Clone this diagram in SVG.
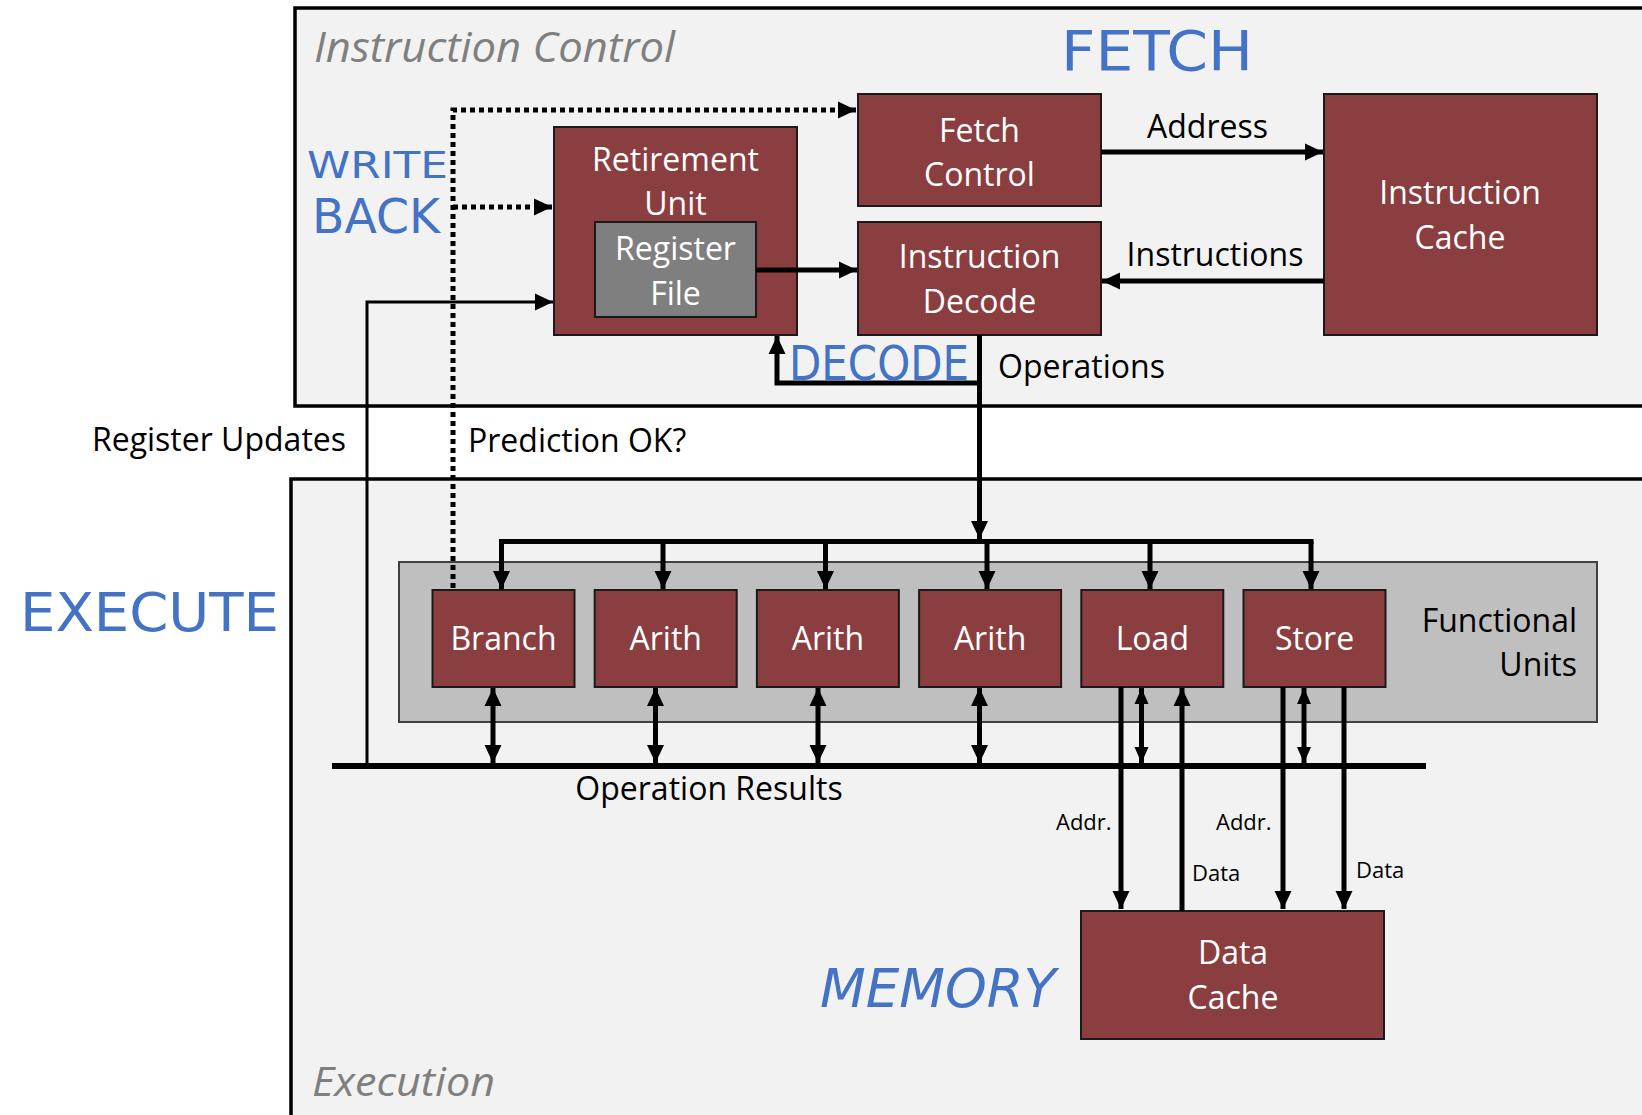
<svg xmlns="http://www.w3.org/2000/svg" width="1642" height="1115" viewBox="0 0 1642 1115">
<defs>
<marker id="ah" markerUnits="userSpaceOnUse" markerWidth="20" markerHeight="20" refX="18" refY="9" orient="auto-start-reverse"><path d="M0,0.5 L18,9 L0,17.5 z" fill="#000"/></marker>
<marker id="ahs" markerUnits="userSpaceOnUse" markerWidth="18" markerHeight="16" refX="16" refY="7.5" orient="auto-start-reverse"><path d="M0,0.5 L16,7.5 L0,14.5 z" fill="#000"/></marker>
<style>
.panel{fill:#f2f2f2;stroke:#000;stroke-width:3.5}
.red{fill:#8b3e3f;stroke:#1a1a1a;stroke-width:2}
.gray{fill:#7f7f7f;stroke:#1a1a1a;stroke-width:2}
.fu{fill:#bfbfbf;stroke:#404040;stroke-width:2}
.wt{font-family:"Open Sans","Noto Sans",sans-serif;font-size:32px;fill:#fff;text-anchor:middle}
.bt{font-family:"Open Sans","Noto Sans",sans-serif;font-size:32px;fill:#000}
.sm{font-family:"Open Sans","Noto Sans",sans-serif;font-size:22px;fill:#000}
.ttl{font-family:"Open Sans","Noto Sans",sans-serif;font-style:italic;fill:#7f7f7f}
.hw{font-family:"DejaVu Sans",sans-serif;fill:#4472c4}
.th{fill:none;stroke:#000;stroke-width:5}
.tn{fill:none;stroke:#000;stroke-width:3}
.dot{fill:none;stroke:#000;stroke-width:5;stroke-dasharray:5 4}
</style>
</defs>
<rect width="1642" height="1115" fill="#fff"/>
<g id="panel-instruction-control">
<rect class="panel" x="295" y="8" width="1360" height="398"/>
<text class="ttl" x="314" y="62" font-size="42" textLength="361" lengthAdjust="spacingAndGlyphs">Instruction Control</text>
</g>
<g id="panel-execution">
<rect class="panel" x="291" y="479" width="1360" height="650"/>
<text class="ttl" x="312" y="1096" font-size="40" textLength="183" lengthAdjust="spacingAndGlyphs">Execution</text>
</g>
<g id="functional-units">
<rect class="fu" x="399" y="562" width="1198" height="160"/>
<text class="bt" x="1577" y="632" text-anchor="end">Functional</text>
<text class="bt" x="1577" y="676" text-anchor="end">Units</text>
</g>
<g id="fetch-control"><rect class="red" x="858" y="94" width="243" height="112"/><text class="wt" x="979.5" y="141.5">Fetch</text><text class="wt" x="979.5" y="186">Control</text></g>
<g id="instruction-decode"><rect class="red" x="858" y="222" width="243" height="113"/><text class="wt" x="979.5" y="268">Instruction</text><text class="wt" x="979.5" y="313">Decode</text></g>
<g id="instruction-cache"><rect class="red" x="1324" y="94" width="273" height="241"/><text class="wt" x="1460" y="204">Instruction</text><text class="wt" x="1460" y="249">Cache</text></g>
<g id="retirement-unit"><rect class="red" x="554" y="127" width="243" height="208"/><text class="wt" x="675.5" y="171">Retirement</text><text class="wt" x="675.5" y="215">Unit</text></g>
<g id="register-file"><rect class="gray" x="595" y="222" width="161" height="95"/><text class="wt" x="675.5" y="260">Register</text><text class="wt" x="675.5" y="305">File</text></g>
<g id="unit-branch"><rect class="red" x="432.5" y="590" width="142" height="97"/><text class="wt" x="503.5" y="650">Branch</text></g>
<g id="unit-arith1"><rect class="red" x="594.7" y="590" width="142" height="97"/><text class="wt" x="665.7" y="650">Arith</text></g>
<g id="unit-arith2"><rect class="red" x="756.9" y="590" width="142" height="97"/><text class="wt" x="827.9" y="650">Arith</text></g>
<g id="unit-arith3"><rect class="red" x="919.1" y="590" width="142" height="97"/><text class="wt" x="990.1" y="650">Arith</text></g>
<g id="unit-load"><rect class="red" x="1081.3" y="590" width="142" height="97"/><text class="wt" x="1152.3" y="650">Load</text></g>
<g id="unit-store"><rect class="red" x="1243.5" y="590" width="142" height="97"/><text class="wt" x="1314.5" y="650">Store</text></g>
<g id="data-cache"><rect class="red" x="1081" y="911" width="303" height="128"/><text class="wt" x="1233" y="964">Data</text><text class="wt" x="1233" y="1009">Cache</text></g>
<g id="connectors">
<path class="dot" d="M453,588 V110 H838"/>
<path d="M838,110 H856" stroke="#000" stroke-width="5" marker-end="url(#ah)"/>
<path class="dot" d="M453,207 H536"/>
<path d="M536,207 H552" stroke="#000" stroke-width="5" marker-end="url(#ah)"/>
<path class="tn" d="M367,766 V302 H553" marker-end="url(#ah)"/>
<path class="th" d="M756,270 H857" marker-end="url(#ah)"/>
<path class="th" d="M1101,152 H1323" marker-end="url(#ah)"/>
<path class="th" d="M1324,281 H1102" marker-end="url(#ah)"/>
<path class="th" d="M979.5,335 V539" marker-end="url(#ah)"/>
<path class="th" d="M979.5,383 H777 V336" marker-end="url(#ah)"/>
<path class="th" d="M499,541.5 H1313.5"/>
<path class="th" d="M501.5,541.5 V589" marker-end="url(#ah)"/>
<path class="th" d="M663,541.5 V589" marker-end="url(#ah)"/>
<path class="th" d="M825.5,541.5 V589" marker-end="url(#ah)"/>
<path class="th" d="M987,541.5 V589" marker-end="url(#ah)"/>
<path class="th" d="M1150,541.5 V589" marker-end="url(#ah)"/>
<path class="th" d="M1311,541.5 V589" marker-end="url(#ah)"/>
<path d="M332,766 H1426" stroke="#000" stroke-width="6"/>
<path class="th" d="M493,688 V763" marker-start="url(#ah)" marker-end="url(#ah)"/>
<path class="th" d="M655.5,688 V763" marker-start="url(#ah)" marker-end="url(#ah)"/>
<path class="th" d="M818,688 V763" marker-start="url(#ah)" marker-end="url(#ah)"/>
<path class="th" d="M979.5,688 V763" marker-start="url(#ah)" marker-end="url(#ah)"/>
<path class="th" d="M1141.5,688 V763" marker-start="url(#ahs)" marker-end="url(#ahs)"/>
<path class="th" d="M1304,688 V763" marker-start="url(#ahs)" marker-end="url(#ahs)"/>
<path class="th" d="M1121,687 V909" marker-end="url(#ah)"/>
<path class="th" d="M1182,911 V688" marker-end="url(#ah)"/>
<path class="th" d="M1283,687 V909" marker-end="url(#ah)"/>
<path class="th" d="M1344,687 V909" marker-end="url(#ah)"/>
</g>
<g id="labels">
<text class="bt" x="1207.5" y="138" text-anchor="middle">Address</text>
<text class="bt" x="1215" y="266" text-anchor="middle">Instructions</text>
<text class="bt" x="998" y="378">Operations</text>
<text class="bt" x="346" y="451" text-anchor="end">Register Updates</text>
<text class="bt" x="468" y="452">Prediction OK?</text>
<text class="bt" x="709" y="800" text-anchor="middle">Operation Results</text>
<text class="sm" x="1056" y="830">Addr.</text>
<text class="sm" x="1216" y="830">Addr.</text>
<text class="sm" x="1192" y="881">Data</text>
<text class="sm" x="1356" y="878">Data</text>
</g>
<g id="annotations">
<text class="hw" x="1061" y="70" font-size="56" textLength="192" lengthAdjust="spacingAndGlyphs">FETCH</text>
<text class="hw" x="307" y="178" font-size="38" textLength="141" lengthAdjust="spacingAndGlyphs">WRITE</text>
<text class="hw" x="312" y="233" font-size="48" textLength="128" lengthAdjust="spacingAndGlyphs">BACK</text>
<text class="hw" x="789" y="380" font-size="48" textLength="180" lengthAdjust="spacingAndGlyphs">DECODE</text>
<text class="hw" x="20" y="631" font-size="54" textLength="259" lengthAdjust="spacingAndGlyphs">EXECUTE</text>
<text class="hw" x="820" y="1007" font-size="54" font-style="italic" textLength="236" lengthAdjust="spacingAndGlyphs">MEMORY</text>
</g>
</svg>
